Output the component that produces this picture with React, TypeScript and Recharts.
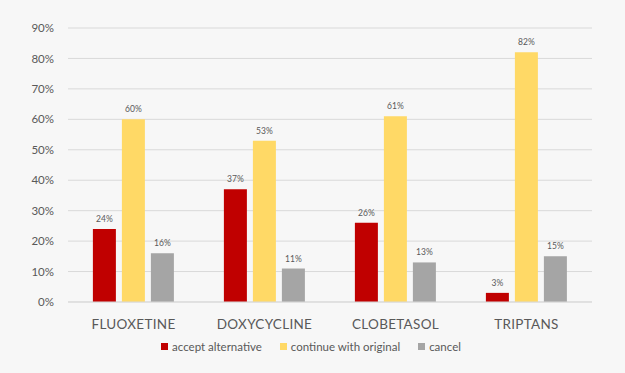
import { BarChart, Bar, XAxis, YAxis, CartesianGrid, Legend, LabelList } from "recharts";

const drugs = ["FLUOXETINE", "DOXYCYCLINE", "CLOBETASOL", "TRIPTANS"];
const acceptAlternative = [24, 37, 26, 3];
const continueWithOriginal = [60, 53, 61, 82];
const cancel = [16, 11, 13, 15];
const yTicks = [0, 10, 20, 30, 40, 50, 60, 70, 80, 90];

const series = [
  { key: "accept", label: "accept alternative", color: "#C00000" },
  { key: "original", label: "continue with original", color: "#FFD966" },
  { key: "cancel", label: "cancel", color: "#A5A5A5" },
];

const data = drugs.map((d, i) => ({
  drug: d,
  accept: acceptAlternative[i],
  original: continueWithOriginal[i],
  cancel: cancel[i],
}));

const textColor = "#595959";
const font = "Lato, 'Liberation Sans', sans-serif";

function LegendContent() {
  return (
    <div style={{ display: "flex", justifyContent: "center", gap: 18, fontSize: 11.5, color: textColor, fontFamily: font, paddingLeft: 12 }}>
      {series.map((s) => (
        <span key={s.key} style={{ display: "flex", alignItems: "center", gap: 4 }}>
          <span style={{ width: 7, height: 7, background: s.color, display: "inline-block" }} />
          {s.label}
        </span>
      ))}
    </div>
  );
}

export default function App() {
  return (
    <div style={{ position: "absolute", left: 0, top: 0, width: 625, height: 373, background: "#F7F7F7", fontFamily: font }}>
      <BarChart
        width={625}
        height={373}
        data={data}
        margin={{ top: 28, right: 33, bottom: 28, left: 18 }}
        barCategoryGap="19%"
        barGap={6}
      >
        <CartesianGrid stroke="#D9D9D9" vertical={false} />
        <XAxis
          dataKey="drug"
          axisLine={{ stroke: "#D9D9D9" }}
          tickLine={false}
          tick={{ fontSize: 13.5, fill: textColor, fontFamily: font, letterSpacing: 0.3 }}
          tickMargin={11}
          height={30}
        />
        <YAxis
          domain={[0, 90]}
          ticks={yTicks}
          tickFormatter={(v) => `${v}%`}
          axisLine={false}
          tickLine={false}
          tick={{ fontSize: 11.5, fill: textColor, fontFamily: font }}
          width={50}
          tickMargin={8}
        />
        <Legend content={<LegendContent />} verticalAlign="bottom" wrapperStyle={{ bottom: 20 }} />
        {series.map((s) => (
          <Bar key={s.key} dataKey={s.key} name={s.label} fill={s.color} isAnimationActive={false}>
            <LabelList
              dataKey={s.key}
              position="top"
              offset={7}
              formatter={(v: number) => `${v}%`}
              style={{ fontSize: 8.5, fill: textColor, fontFamily: font }}
            />
          </Bar>
        ))}
      </BarChart>
    </div>
  );
}
